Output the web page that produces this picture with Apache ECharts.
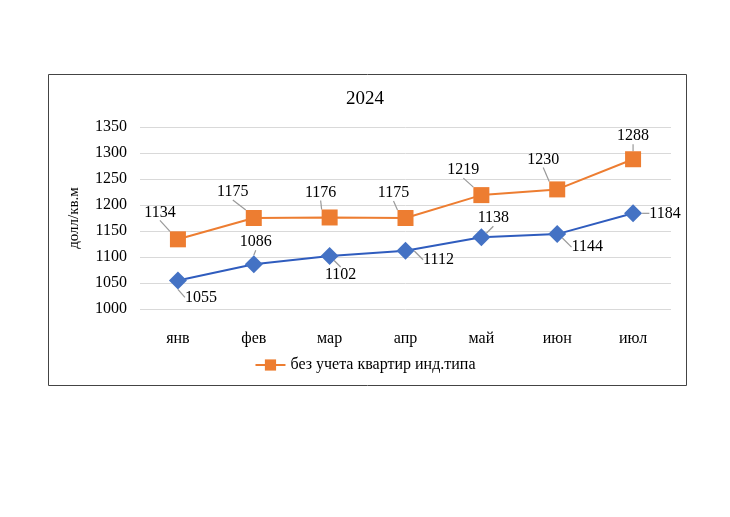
<!DOCTYPE html>
<html>
<head>
<meta charset="utf-8">
<script src="https://cdn.jsdelivr.net/npm/echarts@6/dist/echarts.min.js"></script>
<style>
html, body { margin: 0; padding: 0; background: #fff; }
#chart { width: 730px; height: 517px; }
</style>
</head>
<body>
<div id="chart"></div>
<script>
var months = ['янв', 'фев', 'мар', 'апр', 'май', 'июн', 'июл'];
var withoutInd = [1134, 1175, 1176, 1175, 1219, 1230, 1288];
var withInd = [1055, 1086, 1102, 1112, 1138, 1144, 1184];
var yTicks = [1000, 1050, 1100, 1150, 1200, 1250, 1300, 1350];

// сдвиг подписей (как в исходной диаграмме)
var orangeShift = [[-18, -27], [-21, -26], [-9, -25], [-12, -25], [-18, -25], [-14, -30], [0, -23]];
var blueShift = [[23, 17], [2, -22], [11, 19], [33, 9], [12, -19], [30, 13], [32, 0]];

var font = '"Liberation Serif", "Times New Roman", serif';

function init() {
    var chart = echarts.init(document.getElementById('chart'));
    var option = {
        animation: false,
        textStyle: { fontFamily: font },
        title: {
            text: '2024',
            left: 'center',
            top: 85,
            textStyle: { fontFamily: font, fontSize: 19, fontWeight: 'normal', color: '#000' }
        },
        graphic: [{
            type: 'rect',
            shape: { x: 48.5, y: 74.5, width: 638, height: 311 },
            style: { fill: null, stroke: '#444', lineWidth: 1 },
            silent: true
        }],
        legend: {
            data: ['без учета квартир инд.типа'],
            top: 352,
            left: 'center',
            itemWidth: 30,
            itemHeight: 14,
            textStyle: { fontFamily: font, fontSize: 16, color: '#000' }
        },
        grid: { left: 140, right: 59, top: 127, bottom: 208 },
        xAxis: {
            type: 'category',
            data: months,
            axisLine: { show: false },
            axisTick: { show: false },
            axisLabel: { margin: 22, fontFamily: font, fontSize: 16, color: '#000' }
        },
        yAxis: {
            type: 'value',
            min: yTicks[0],
            max: yTicks[yTicks.length - 1],
            interval: 50,
            name: 'долл/кв.м',
            nameLocation: 'middle',
            nameGap: 58,
            nameTextStyle: { fontFamily: font, fontSize: 15, color: '#000' },
            axisLabel: {
                margin: 13, fontFamily: font, fontSize: 16, color: '#000',
                formatter: function (v) { return String(v); }
            },
            splitLine: { lineStyle: { color: '#d9d9d9' } }
        },
        series: [
            {
                name: 'без учета квартир инд.типа',
                type: 'line',
                data: withoutInd,
                symbol: 'rect',
                symbolSize: 16,
                z: 3,
                itemStyle: { color: '#ED7D31' },
                lineStyle: { color: '#ED7D31', width: 2 },
                label: { show: true, position: 'inside', fontFamily: font, fontSize: 16, color: '#000' },
                labelLine: { show: true, lineStyle: { color: '#999', width: 1.2 } },
                labelLayout: function (p) {
                    var s = orangeShift[p.dataIndex];
                    return { dx: s[0], dy: s[1] };
                }
            },
            {
                name: 'с учетом квартир инд.типа',
                type: 'line',
                data: withInd,
                symbol: 'diamond',
                symbolSize: 18,
                z: 2,
                itemStyle: { color: '#4472C4' },
                lineStyle: { color: '#2F5CBE', width: 2 },
                label: { show: true, position: 'inside', fontFamily: font, fontSize: 16, color: '#000' },
                labelLine: { show: true, lineStyle: { color: '#999', width: 1.2 } },
                labelLayout: function (p) {
                    var s = blueShift[p.dataIndex];
                    return { dx: s[0], dy: s[1] };
                }
            }
        ]
    };
    chart.setOption(option);
}
init();
</script>
</body>
</html>
